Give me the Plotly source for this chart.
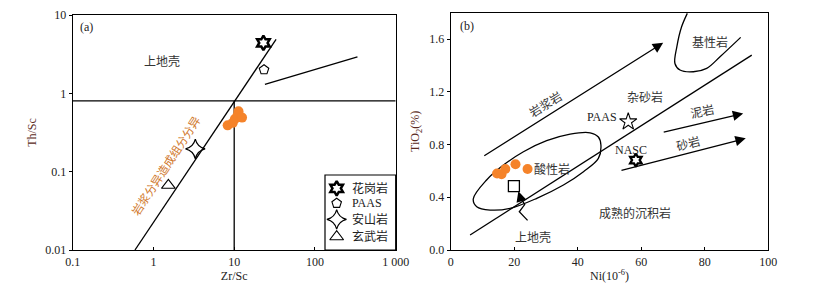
import numpy as np
import plotly.graph_objects as go

# ---------------- Panel (a) data: Th/Sc vs Zr/Sc ----------------
a_sample_zr_sc = [8.3, 9.6, 10.2, 11.3, 11.0, 12.5]
a_sample_th_sc = [0.39, 0.42, 0.47, 0.59, 0.52, 0.49]

a_ref_names = ["花岗岩", "PAAS", "安山岩", "玄武岩"]
a_ref_zr_sc = [23.0, 23.4, 3.3, 1.53]
a_ref_th_sc = [4.4, 2.0, 0.195, 0.067]

a_trend_zr = [0.59, 33.0]          # magmatic differentiation line
a_trend_th = [0.01, 4.9]
a_recycle_zr = [24.0, 336.0]       # sediment recycling line
a_recycle_th = [1.3, 2.93]
a_hline_zr = [0.1, 1000.0]
a_hline_th = [0.8, 0.8]
a_vline_zr = [10.0, 10.0]
a_vline_th = [0.01, 0.8]

a_xtick_vals = [0.1, 1, 10, 100, 1000]
a_xtick_text = ["0.1", "1", "10", "100", "1 000"]
a_ytick_vals = [0.01, 0.1, 1, 10]
a_ytick_text = ["0.01", "0.1", "1", "10"]

# ---------------- Panel (b) data: TiO2 vs Ni ----------------
b_sample_ni = [14.6, 16.0, 17.2, 20.4, 24.2]
b_sample_tio2 = [0.58, 0.575, 0.615, 0.65, 0.615]

b_uc_ni = [19.9]; b_uc_tio2 = [0.485]
b_paas_ni = [55.9]; b_paas_tio2 = [0.973]
b_nasc_ni = [58.3]; b_nasc_tio2 = [0.682]

b_bound_ni = [6.1, 94.8]
b_bound_tio2 = [0.114, 1.478]

b_felsic_ni = [7.1, 11.3, 16.6, 22.9, 30.2, 37.6, 43.9, 46.5, 47.3, 46.5, 41.8, 35.5,
               27.1, 18.7, 12.4, 8.2, 7.1]
b_felsic_tio2 = [0.387, 0.531, 0.644, 0.745, 0.829, 0.879, 0.889, 0.857, 0.796, 0.695,
                 0.594, 0.493, 0.392, 0.316, 0.303, 0.328, 0.387]

b_mafic_ni = [74.5, 72.7, 71.2, 70.6, 72.2, 76.4, 80.6, 84.8, 91.3]
b_mafic_tio2 = [1.795, 1.693, 1.541, 1.415, 1.365, 1.352, 1.378, 1.466, 1.613]

b_squiggle_ni = [24.2, 21.6, 23.3, 21.9]
b_squiggle_tio2 = [0.225, 0.29, 0.345, 0.40]

b_arrow_magma = [(10.1, 0.708), (66.9, 1.572)]
b_arrow_mud = [(66.6, 0.892), (92.1, 1.036)]
b_arrow_sand = [(53.3, 0.601), (92.9, 0.847)]
b_arrow_uc = [(21.9, 0.40), (21.3, 0.445)]

b_xtick_vals = [0, 20, 40, 60, 80, 100]
b_ytick_vals = [0.0, 0.4, 0.8, 1.2, 1.6]
b_ytick_text = ["0.0", "0.4", "0.8", "1.2", "1.6"]

# ---------------- styling ----------------
SERIF = "Liberation Serif, Noto Sans CJK SC"
CJK = "Noto Sans CJK SC, Liberation Serif"
ORANGE = "#f5832a"
INK = "#222222"
LW = 1.3
W, H = 815, 287

SYM_GRANITE = dict(symbol="hexagram", color="white", size=11, line=dict(color="black", width=2.5))
SYM_PAAS_A = dict(symbol="pentagon-open", color="black", size=10, line=dict(color="black", width=1.1))
SYM_ANDESITE = dict(symbol="star-diamond-open", color="black", size=14, line=dict(color="black", width=1.2))
SYM_BASALT = dict(symbol="triangle-up-open", color="black", size=12, line=dict(color="black", width=1.1))
a_symbols = [SYM_GRANITE, SYM_PAAS_A, SYM_ANDESITE, SYM_BASALT]

fig = go.Figure()

def line(x, y, xa, ya, shape="linear"):
    fig.add_trace(go.Scatter(x=x, y=y, mode="lines", xaxis=xa, yaxis=ya,
                             line=dict(color="black", width=LW, shape=shape),
                             showlegend=False, hoverinfo="skip"))

# Panel a lines
line(a_hline_zr, a_hline_th, "x", "y")
line(a_vline_zr, a_vline_th, "x", "y")
line(a_trend_zr, a_trend_th, "x", "y")
line(a_recycle_zr, a_recycle_th, "x", "y")

# Panel a samples
fig.add_trace(go.Scatter(x=a_sample_zr_sc, y=a_sample_th_sc, mode="markers", xaxis="x", yaxis="y",
                         marker=dict(color=ORANGE, size=10, line=dict(width=0)), showlegend=False))

for nm, xv, yv, mk in zip(a_ref_names, a_ref_zr_sc, a_ref_th_sc, a_symbols):
    fig.add_trace(go.Scatter(x=[xv], y=[yv], mode="markers", xaxis="x", yaxis="y", name=nm,
                             marker=mk, showlegend=False))

# Panel b lines
line(b_bound_ni, b_bound_tio2, "x2", "y2")
line(b_felsic_ni, b_felsic_tio2, "x2", "y2", shape="spline")
line(b_mafic_ni, b_mafic_tio2, "x2", "y2", shape="spline")
line(b_squiggle_ni, b_squiggle_tio2, "x2", "y2")

fig.add_trace(go.Scatter(x=b_sample_ni, y=b_sample_tio2, mode="markers", xaxis="x2", yaxis="y2",
                         marker=dict(color=ORANGE, size=10, line=dict(width=0)), showlegend=False))
fig.add_trace(go.Scatter(x=b_uc_ni, y=b_uc_tio2, mode="markers", xaxis="x2", yaxis="y2",
                         marker=dict(symbol="square-open", color="black", size=11,
                                     line=dict(color="black", width=1.3)), showlegend=False))
fig.add_trace(go.Scatter(x=b_paas_ni, y=b_paas_tio2, mode="markers", xaxis="x2", yaxis="y2",
                         marker=dict(symbol="star-open", color="black", size=13,
                                     line=dict(color="black", width=1.1)), showlegend=False))
fig.add_trace(go.Scatter(x=b_nasc_ni, y=b_nasc_tio2, mode="markers", xaxis="x2", yaxis="y2",
                         marker=dict(symbol="hexagram", color="white", size=10,
                                     line=dict(color="black", width=2.3)), showlegend=False))

# ---------------- hand-drawn legend box for panel (a) ----------------
LEG_BOX = (325, 175, 395.7, 250)         # pixel box: left, top, right, bottom
LEG_ROW_Y = [0.823, 0.623, 0.409, 0.177]  # row centres inside the box (0 bottom .. 1 top)
LEG_SYM_X = 0.165
LEG_TXT_X = 0.36
for ry, mk, nm in zip(LEG_ROW_Y, a_symbols, a_ref_names):
    fig.add_trace(go.Scatter(x=[LEG_SYM_X], y=[ry], mode="markers", xaxis="x3", yaxis="y3",
                             marker=mk, showlegend=False, hoverinfo="skip"))

annotations = []

def arrow(p0, p1):
    annotations.append(dict(x=p1[0], y=p1[1], ax=p0[0], ay=p0[1], xref="x2", yref="y2",
                            axref="x2", ayref="y2", showarrow=True, text="",
                            arrowhead=2, arrowsize=1.6, arrowwidth=LW, arrowcolor="black"))

for arr in (b_arrow_magma, b_arrow_mud, b_arrow_sand, b_arrow_uc):
    arrow(*arr)

def label(text, x, y, xref, yref, size=12, color="#333333", angle=0, family=CJK, xanchor="center"):
    annotations.append(dict(text=text, x=x, y=y, xref=xref, yref=yref, showarrow=False,
                            font=dict(family=family, size=size, color=color), textangle=angle,
                            xanchor=xanchor, yanchor="middle"))

for ry, nm in zip(LEG_ROW_Y, a_ref_names):
    label(nm, LEG_TXT_X, ry, "x3", "y3", family=SERIF, color=INK, xanchor="left")

# Panel a labels (log axes use log10 positions)
L = np.log10
label("(a)", L(0.149), L(7.1), "x", "y", family=SERIF, color=INK)
label("上地壳", L(1.27), L(2.66), "x", "y")
label("岩浆分异造成组分分异", L(1.39), L(0.119), "x", "y", size=11.5, color="#d0782c", angle=-57)

# Panel b labels
label("(b)", 5.0, 1.70, "x2", "y2", family=SERIF, color=INK)
label("岩浆岩", 29.7, 1.112, "x2", "y2", angle=-32)
label("杂砂岩", 61.2, 1.162, "x2", "y2")
label("基性岩", 81.6, 1.58, "x2", "y2")
label("PAAS", 47.5, 1.006, "x2", "y2", family=SERIF, color=INK)
label("NASC", 56.7, 0.758, "x2", "y2", family=SERIF, color=INK)
label("泥岩", 79.0, 1.061, "x2", "y2", angle=-12)
label("砂岩", 74.8, 0.814, "x2", "y2", angle=-15)
label("酸性岩", 31.8, 0.619, "x2", "y2")
label("上地壳", 25.8, 0.106, "x2", "y2")
label("成熟的沉积岩", 58.0, 0.286, "x2", "y2")

axis_common = dict(showline=True, linecolor="black", linewidth=1.2, mirror=True,
                   showgrid=False, zeroline=False, ticklen=3, tickcolor="black", automargin=False,
                   tickfont=dict(family=SERIF, size=12, color=INK))

fig.update_layout(
    width=W, height=H, autosize=False,
    margin=dict(l=0, r=0, t=0, b=0, pad=0, autoexpand=False),
    paper_bgcolor="white", plot_bgcolor="white",
    showlegend=False,
    annotations=annotations,
    shapes=[dict(type="rect", xref="paper", yref="paper",
                 x0=LEG_BOX[0] / W, x1=LEG_BOX[2] / W, y0=(H - LEG_BOX[3]) / H, y1=(H - LEG_BOX[1]) / H,
                 line=dict(color="black", width=1.2), fillcolor="rgba(0,0,0,0)", layer="above")],
    xaxis=dict(axis_common, type="log", range=[-1, 3], domain=[72.7 / W, 395.7 / W],
               tickvals=a_xtick_vals, ticktext=a_xtick_text, ticks="inside", anchor="y",
               title=dict(text="Zr/Sc", font=dict(family=SERIF, size=12, color=INK), standoff=4)),
    yaxis=dict(axis_common, type="log", range=[-2, 1], domain=[(H - 250) / H, (H - 15) / H],
               tickvals=a_ytick_vals, ticktext=a_ytick_text, ticks="outside", anchor="x",
               title=dict(text="Th/Sc", font=dict(family=SERIF, size=12, color="#5a2a22"), standoff=6)),
    xaxis2=dict(axis_common, range=[0, 100], domain=[450.7 / W, 768.3 / W],
                tickvals=b_xtick_vals, ticks="inside", anchor="y2",
                title=dict(text="Ni(10<sup>-6</sup>)", font=dict(family=SERIF, size=12, color=INK), standoff=4)),
    yaxis2=dict(axis_common, range=[0, 1.8], domain=[(H - 250) / H, (H - 12.7) / H],
                tickvals=b_ytick_vals, ticktext=b_ytick_text, ticks="outside", anchor="x2",
                title=dict(text="TiO<sub>2</sub>(%)", font=dict(family=SERIF, size=12, color="#5a2a22"), standoff=6)),
    xaxis3=dict(domain=[LEG_BOX[0] / W, LEG_BOX[2] / W], range=[0, 1], visible=False,
                anchor="y3", fixedrange=True),
    yaxis3=dict(domain=[(H - LEG_BOX[3]) / H, (H - LEG_BOX[1]) / H], range=[0, 1], visible=False,
                anchor="x3", fixedrange=True),
)

fig.write_html("out.html", config={"displayModeBar": False},
               post_script="document.body.style.margin='0';document.body.style.overflow='hidden';")
